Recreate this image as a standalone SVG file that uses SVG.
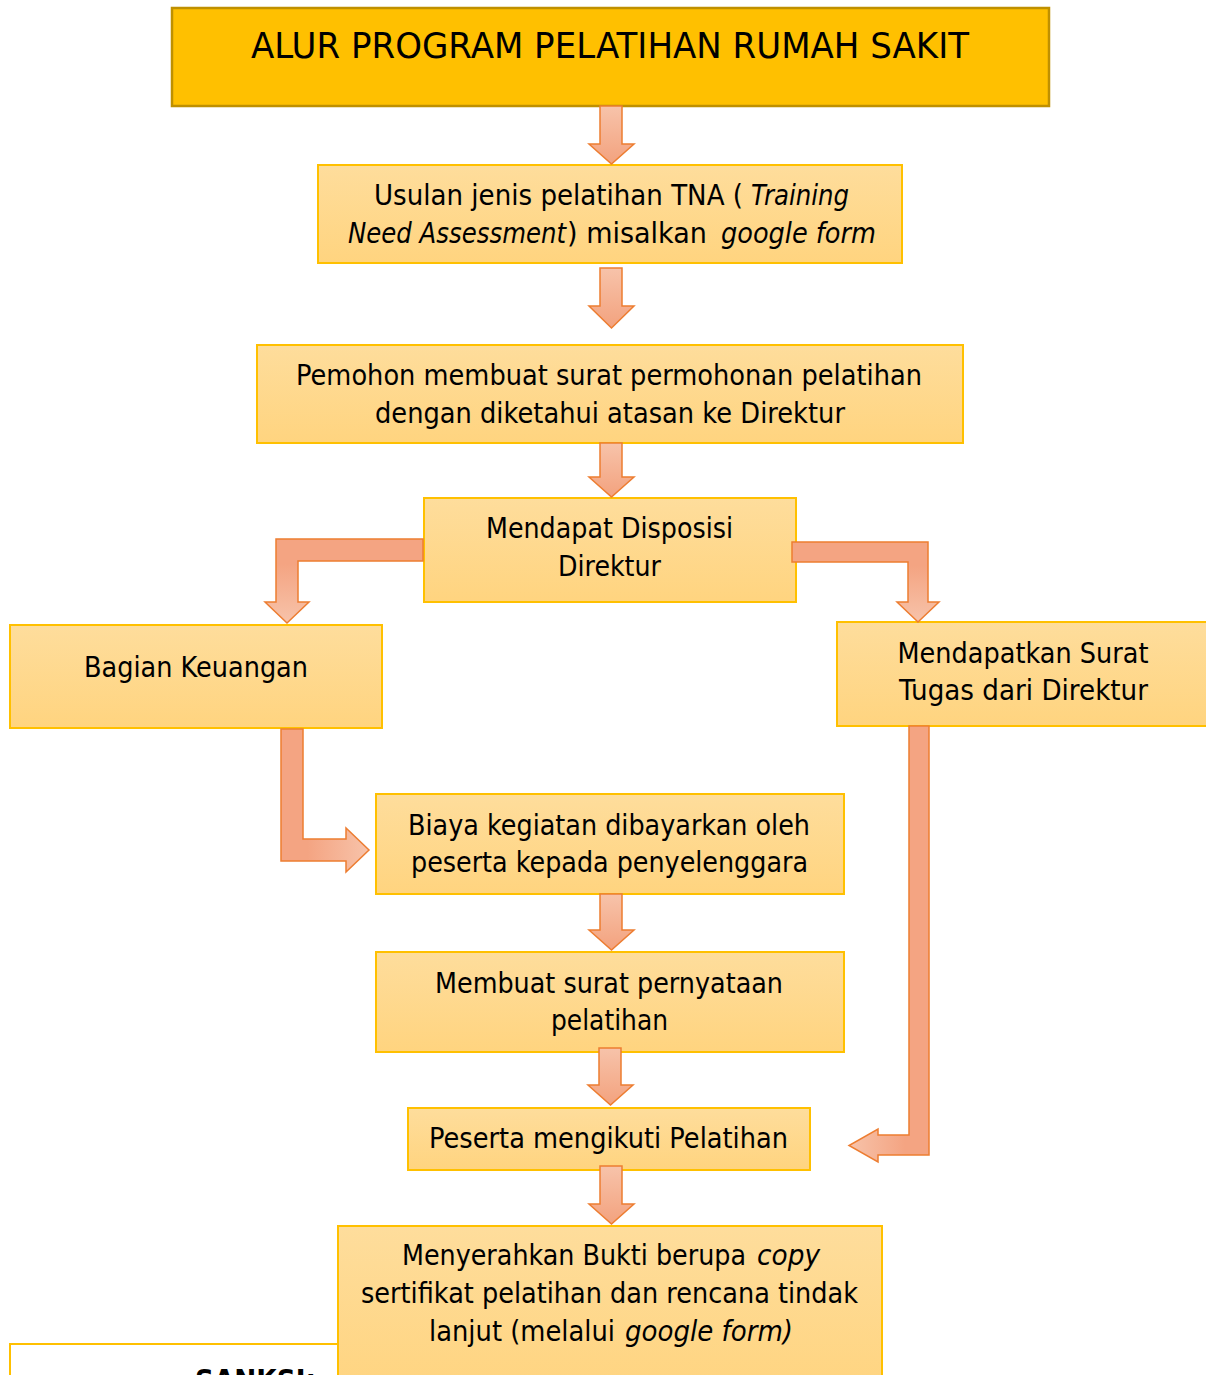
<svg xmlns="http://www.w3.org/2000/svg" width="1206" height="1375" viewBox="0 0 1206 1375">
<defs>
<linearGradient id="boxFill" x1="0" y1="0" x2="0" y2="1"><stop offset="0" stop-color="#FEDD9C"/><stop offset="1" stop-color="#FFD47F"/></linearGradient>
<linearGradient id="gDown" x1="0" y1="0" x2="0" y2="1"><stop offset="0" stop-color="#F7C3AA"/><stop offset="1" stop-color="#F3A27E"/></linearGradient>
<linearGradient id="gElbow" x1="0" y1="0" x2="0" y2="1"><stop offset="0" stop-color="#F4A482"/><stop offset="0.3" stop-color="#F4A482"/><stop offset="1" stop-color="#F7C3AA"/></linearGradient>
<linearGradient id="gRight" x1="0" y1="0" x2="1" y2="0"><stop offset="0" stop-color="#F4A482"/><stop offset="0.3" stop-color="#F4A482"/><stop offset="1" stop-color="#F7C3AA"/></linearGradient>
<linearGradient id="gLeft" x1="1" y1="0" x2="0" y2="0"><stop offset="0" stop-color="#F4A482"/><stop offset="0.3" stop-color="#F4A482"/><stop offset="1" stop-color="#F7C3AA"/></linearGradient>
</defs>
<style>
.box{fill:url(#boxFill);stroke:#FFC000;stroke-width:2}
.title{fill:#FFC000;stroke:#BF9000;stroke-width:2.5}
.plain{fill:#FFFFFF;stroke:#FFC000;stroke-width:2}
.arr{stroke:#ED7D31;stroke-width:1.5;stroke-linejoin:miter}
text{font-family:"DejaVu Sans","Verdana",sans-serif;font-size:29px;fill:#000;text-anchor:middle}
.t{font-size:35px}
.s{text-anchor:start}
.i{font-style:italic}
.b{font-weight:bold;font-size:29px}
</style>
<rect width="1206" height="1375" fill="#FFFFFF"/>
<g id="title">
<rect class="title" x="172" y="8" width="877" height="98"/>
<text class="t" x="610" y="58" textLength="718" lengthAdjust="spacingAndGlyphs">ALUR PROGRAM PELATIHAN RUMAH SAKIT</text>
</g>
<g id="usulan">
<rect class="box" x="318" y="165" width="584" height="98"/>
<text class="s" x="374" y="205" textLength="369" lengthAdjust="spacingAndGlyphs">Usulan jenis pelatihan TNA (</text>
<text class="s i" x="751" y="205" textLength="98" lengthAdjust="spacingAndGlyphs">Training</text>
<text class="s i" x="348" y="243" textLength="218" lengthAdjust="spacingAndGlyphs">Need Assessment</text>
<text class="s" x="567" y="243" textLength="140" lengthAdjust="spacingAndGlyphs">) misalkan</text>
<text class="s i" x="721" y="243" textLength="155" lengthAdjust="spacingAndGlyphs">google form</text>
</g>
<g id="pemohon">
<rect class="box" x="257" y="345" width="706" height="98"/>
<text x="609" y="385" textLength="626" lengthAdjust="spacingAndGlyphs">Pemohon membuat surat permohonan pelatihan</text>
<text x="610" y="423" textLength="470" lengthAdjust="spacingAndGlyphs">dengan diketahui atasan ke Direktur</text>
</g>
<g id="disposisi">
<rect class="box" x="424" y="498" width="372" height="104"/>
<text x="609.5" y="538" textLength="247" lengthAdjust="spacingAndGlyphs">Mendapat Disposisi</text>
<text x="609.5" y="576" textLength="103" lengthAdjust="spacingAndGlyphs">Direktur</text>
</g>
<g id="keuangan">
<rect class="box" x="10" y="625" width="372" height="103"/>
<text x="196" y="677" textLength="224" lengthAdjust="spacingAndGlyphs">Bagian Keuangan</text>
</g>
<g id="surat-tugas">
<rect class="box" x="837" y="622" width="375" height="104"/>
<text x="1023" y="663" textLength="251" lengthAdjust="spacingAndGlyphs">Mendapatkan Surat</text>
<text x="1023.5" y="700" textLength="249" lengthAdjust="spacingAndGlyphs">Tugas dari Direktur</text>
</g>
<g id="biaya">
<rect class="box" x="376" y="794" width="468" height="100"/>
<text x="609" y="835" textLength="402" lengthAdjust="spacingAndGlyphs">Biaya kegiatan dibayarkan oleh</text>
<text x="609.5" y="872" textLength="397" lengthAdjust="spacingAndGlyphs">peserta kepada penyelenggara</text>
</g>
<g id="pernyataan">
<rect class="box" x="376" y="952" width="468" height="100"/>
<text x="609" y="993" textLength="348" lengthAdjust="spacingAndGlyphs">Membuat surat pernyataan</text>
<text x="609.5" y="1030" textLength="117" lengthAdjust="spacingAndGlyphs">pelatihan</text>
</g>
<g id="peserta">
<rect class="box" x="408" y="1108" width="402" height="62"/>
<text x="608.5" y="1148" textLength="359" lengthAdjust="spacingAndGlyphs">Peserta mengikuti Pelatihan</text>
</g>
<g id="sanksi">
<rect class="plain" x="10" y="1344" width="328" height="50"/>
<text class="b" x="255.5" y="1390" textLength="121" lengthAdjust="spacingAndGlyphs">SANKSI:</text>
</g>
<g id="bukti">
<rect class="box" x="338" y="1226" width="544" height="170"/>
<text class="s" x="402" y="1265" textLength="344" lengthAdjust="spacingAndGlyphs">Menyerahkan Bukti berupa</text>
<text class="s i" x="757" y="1265" textLength="63" lengthAdjust="spacingAndGlyphs">copy</text>
<text x="609.5" y="1303" textLength="497" lengthAdjust="spacingAndGlyphs">sertifikat pelatihan dan rencana tindak</text>
<text class="s" x="429" y="1341" textLength="186" lengthAdjust="spacingAndGlyphs">lanjut (melalui</text>
<text class="s i" x="625" y="1341" textLength="168" lengthAdjust="spacingAndGlyphs">google form)</text>
</g>
<g id="connectors">
<path class="arr" fill="url(#gDown)" d="M600,106 H622 V144 H634 L611.5,164 L589,144 H600 Z"/>
<path class="arr" fill="url(#gDown)" d="M600,268 H622 V306 H634 L611.5,328 L589,306 H600 Z"/>
<path class="arr" fill="url(#gDown)" d="M600,443 H622 V477 H634 L611.5,497 L589,477 H600 Z"/>
<path class="arr" fill="url(#gElbow)" d="M423,539 H276 V602 H265 L287,623 L309,602 H298 V561 H423 Z"/>
<path class="arr" fill="url(#gElbow)" d="M792,542 H928 V602 H939 L918,622 L897,602 H908 V562 H792 Z"/>
<path class="arr" fill="url(#gRight)" d="M281,729 H303 V839 H346 V828 L369,850 L346,872 V861 H281 Z"/>
<path class="arr" fill="url(#gDown)" d="M600,894 H622 V930 H634 L611.5,950 L589,930 H600 Z"/>
<path class="arr" fill="url(#gDown)" d="M599,1048 H621 V1085 H633 L610.5,1105 L588,1085 H599 Z"/>
<path class="arr" fill="url(#gLeft)" d="M909,726 H929 V1155 H878 V1162 L849,1145.5 L878,1129 V1135 H909 Z"/>
<path class="arr" fill="url(#gDown)" d="M600,1166 H622 V1204 H634 L611.5,1224 L589,1204 H600 Z"/>
</g>
</svg>
